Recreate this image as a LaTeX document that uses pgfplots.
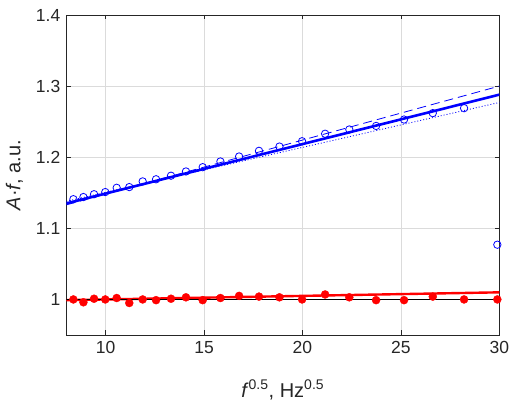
\documentclass[border=0pt]{standalone}
\usepackage{pgfplots}
\pgfplotsset{compat=1.18}
\usepackage{fontspec}
\setmainfont{Liberation Sans}
\definecolor{axgray}{rgb}{0.15,0.15,0.15}
\pgfplotstableread{
x y
8.36 1.141
8.87 1.144
9.41 1.148
9.98 1.151
10.56 1.157
11.20 1.158
11.88 1.166
12.56 1.169
13.32 1.174
14.08 1.180
14.93 1.186
15.83 1.194
16.78 1.201
17.79 1.209
18.83 1.215
19.98 1.2225
21.15 1.233
22.38 1.239
23.74 1.244
25.16 1.253
26.62 1.262
28.21 1.269
29.90 1.077
}\bluedata
\pgfplotstableread{
x y
8.36 1.000
8.87 0.996
9.41 1.001
9.98 1.000
10.56 1.002
11.20 0.995
11.88 1.000
12.56 0.999
13.32 1.001
14.08 1.003
14.93 0.999
15.83 1.002
16.78 1.005
17.79 1.004
18.83 1.003
19.98 1.000
21.15 1.007
22.38 1.003
23.74 0.999
25.16 0.999
26.62 1.004
28.21 1.000
29.90 1.000
}\reddata
\begin{document}
\fontsize{17.5}{21}\selectfont
\begin{tikzpicture}
\begin{axis}[
  at={(0,0)}, anchor=south west,
  width=433pt, height=320pt, scale only axis,
  xmin=8, xmax=30, ymin=0.95, ymax=1.4,
  xtick={10,15,20,25,30}, ytick={1,1.1,1.2,1.3,1.4},
  grid=major, grid style={color=black!14, line width=0.5pt},
  axis line style={axgray, line width=0.6pt},
  tick style={axgray, line width=0.6pt}, major tick length=4.5pt,
  tick label style={font=\fontsize{17.5}{21}\selectfont, text=axgray},
  /pgf/number format/assume math mode=true,
  xlabel={\textit{f}\textsuperscript{0.5}, Hz\textsuperscript{0.5}},
  ylabel={\textit{A}·\textit{f}, a.u.},
  label style={font=\fontsize{20}{24}\selectfont, text=axgray},
  xlabel style={at={(axis description cs:0.5,-0.194)}, anchor=base},
  ylabel style={at={(axis description cs:-0.12,0.5)}, anchor=center},
  clip=true,
]
\addplot[only marks, mark=o, mark size=3.7pt, blue, mark options={line width=0.8pt}] table {\bluedata};
\addplot[only marks, mark=*, mark size=4pt, red, mark options={fill=red, draw=red}] table {\reddata};
\addplot[blue, line width=0.8pt, dash pattern=on 9pt off 5pt] coordinates {(8,1.133) (30,1.300)};
\addplot[blue, line width=0.8pt, dash pattern=on 1pt off 2pt] coordinates {(8,1.138) (30,1.277)};
\addplot[blue, line width=2.6pt] coordinates {(8,1.135) (30,1.288)};
\addplot[red, line width=2.4pt] coordinates {(8,0.999) (30,1.010)};
\addplot[black, line width=0.8pt] coordinates {(8,1) (30,1)};
\end{axis}
\pgfresetboundingbox
\path (-66.3pt,-69pt) rectangle (447.7pt,335pt);
\end{tikzpicture}
\end{document}
